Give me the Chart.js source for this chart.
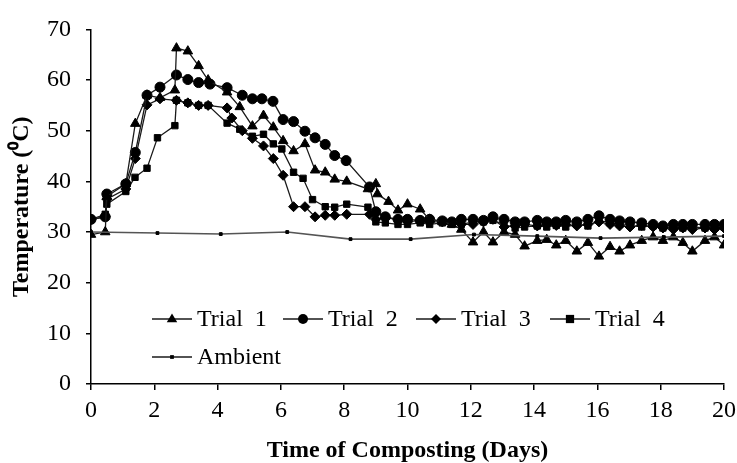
<!DOCTYPE html>
<html>
<head>
<meta charset="utf-8">
<script src="https://cdn.jsdelivr.net/npm/chart.js"></script>
<style>
  body { margin: 0; background: #fff; }
</style>
</head>
<body>
<canvas id="chart" width="737" height="463"></canvas>
<script>
// composting temperature (days, deg C)
let lateDays = [9.0, 9.3, 9.7, 10.0, 10.4, 10.7, 11.1, 11.4, 11.7, 12.07, 12.4, 12.7, 13.05, 13.4, 13.7, 14.1, 14.4, 14.7,
  15.0, 15.35, 15.7, 16.05, 16.4, 16.7, 17.03, 17.4, 17.76, 18.07, 18.4, 18.7, 19.0, 19.4, 19.7, 20.0];

let trial1Days = [0, 0.45, 0.5, 1.1, 1.4, 1.77, 2.18, 2.65, 2.7, 3.06, 3.4, 3.7, 4.3, 4.7, 5.1, 5.45, 5.76, 6.07, 6.4, 6.76,
  7.08, 7.4, 7.7, 8.08, 8.75, 9.0, 9.05, 9.4, 9.7, 10.0, 10.4, 10.7, 11.1, 11.4, 11.7, 12.07, 12.4, 12.7, 13.05, 13.4, 13.7,
  14.1, 14.4, 14.7, 15.0, 15.35, 15.7, 16.05, 16.4, 16.7, 17.03, 17.4, 17.76, 18.07, 18.4, 18.7, 19.0, 19.4, 19.7, 20.0];
let trial1Temp = [29.5, 30, 37, 39.5, 51.4, 57, 56.5, 58, 66.3, 65.7, 62.8, 60, 57.6, 54.7, 50.9, 53, 50.7, 48, 46, 47.4,
  42.2, 41.8, 40.4, 40, 38.5, 39.5, 37.5, 36, 34.3, 35.5, 34.5, 32.5, 32, 31.5, 30.5, 28, 30, 28, 30, 29.5, 27.2,
  28.3, 28.5, 27.4, 28.3, 26.2, 27.9, 25.2, 27.1, 26.2, 27.4, 28.3, 29, 28.3, 29, 27.9, 26.2, 28.3, 29, 27.4];

let trial2Days = [0, 0.45, 0.5, 1.1, 1.4, 1.77, 2.18, 2.7, 3.06, 3.4, 3.76, 4.3, 4.78, 5.1, 5.4, 5.75, 6.07, 6.4, 6.76,
  7.08, 7.4, 7.7, 8.06, 8.8].concat(lateDays);
let trial2Temp = [32.5, 33, 37.5, 39.5, 45.7, 57, 58.6, 61, 60.1, 59.5, 59.2, 58.5, 57, 56.3, 56.3, 55.8, 52.2, 51.8, 49.9,
  48.6, 47.3, 45.1, 44.1, 38.9,
  34, 33, 32.5, 32.5, 32.3, 32.5, 32.2, 32, 32.5, 32.5, 32.3, 33, 32.5, 32, 32, 32.3, 32, 32,
  32.3, 32, 32.5, 33.2, 32.5, 32.2, 32, 31.8, 31.5, 31.2, 31.5, 31.5, 31.5, 31.5, 31.5, 31.5];

let trial3Days = [0, 0.45, 0.5, 1.1, 1.4, 1.77, 2.18, 2.7, 3.06, 3.4, 3.7, 4.3, 4.45, 4.78, 5.1, 5.45, 5.76, 6.07, 6.4,
  6.76, 7.08, 7.4, 7.7, 8.08, 8.8].concat(lateDays);
let trial3Temp = [32.5, 33, 36.5, 38.5, 44.5, 55.1, 56.3, 56, 55.5, 55, 55, 54.5, 52.5, 50, 48.5, 47, 44.5, 41.2, 35,
  35, 33, 33.3, 33.3, 33.5, 33.5,
  32.5, 32.8, 32.5, 32, 32.3, 32, 32, 31.8, 31.5, 31.5, 32, 32.5, 31, 31.2, 31.5, 31.2, 31.5, 31.3,
  31.5, 31.2, 31.5, 32, 31.5, 31.2, 31, 31.3, 31, 30.8, 30.5, 30.8, 30.5, 30.8, 30.5, 30.8];

let trial4Days = [0, 0.45, 0.5, 1.1, 1.39, 1.77, 2.1, 2.65, 2.7, 3.06, 3.4, 3.7, 4.3, 4.7, 5.1, 5.45, 5.76, 6.03, 6.4,
  6.7, 7.0, 7.4, 7.7, 8.08, 8.75].concat(lateDays);
let trial4Temp = [32.5, 33.5, 35.5, 38, 40.8, 42.6, 48.6, 51, 56, 55.5, 55, 55, 51.5, 50.3, 48.9, 49.3, 47.4, 46.4, 41.8,
  40.6, 36.4, 35, 34.9, 35.5, 34.9,
  32, 31.8, 31.5, 31.5, 31.8, 31.5, 31.8, 31.5, 31.5, 32, 32, 32.3, 31.5, 30.8, 31, 31.2, 31, 31.3,
  31, 31.5, 31.2, 32.3, 31.8, 31.5, 31.3, 31, 31.2, 30.8, 31, 30.8, 31, 30.8, 30.8, 31];

let ambientDays = [0, 2.1, 4.1, 6.2, 8.2, 10.1, 12.1, 14.1, 16.1, 18.1, 20];
let ambientTemp = [30, 29.8, 29.6, 30, 28.6, 28.6, 29.5, 29.2, 28.8, 29, 29.2];

let xTicks = [0, 2, 4, 6, 8, 10, 12, 14, 16, 18, 20];
let yTicks = [0, 10, 20, 30, 40, 50, 60, 70];

let serif = "'Liberation Serif', 'Times New Roman', serif";

function toPoints(days, temps) {
  return days.map((d, i) => ({ x: d, y: temps[i] }));
}

function makeSet(label, days, temps, style, radius, color, width) {
  return {
    label: label,
    data: toPoints(days, temps),
    borderColor: color,
    borderWidth: width,
    backgroundColor: '#000',
    pointBackgroundColor: '#000',
    pointBorderColor: '#000',
    pointBorderWidth: 1,
    pointStyle: style,
    pointRadius: radius,
    tension: 0,
    fill: false
  };
}

let datasets = [
  makeSet('Ambient', ambientDays, ambientTemp, 'rect', 2, '#555', 1.6),
  makeSet('Trial 1', trial1Days, trial1Temp, 'triangle', 5.5, '#1a1a1a', 1.3),
  makeSet('Trial 2', trial2Days, trial2Temp, 'circle', 5, '#1a1a1a', 1.3),
  makeSet('Trial 3', trial3Days, trial3Temp, 'rectRot', 5, '#1a1a1a', 1.3),
  makeSet('Trial 4', trial4Days, trial4Temp, 'rect', 4.5, '#1a1a1a', 1.3)
];

// draw a small marker for the legend
function drawMarker(ctx, style, x, y, r) {
  ctx.beginPath();
  if (style === 'triangle') {
    ctx.moveTo(x, y - r);
    ctx.lineTo(x + r * 0.95, y + r * 0.6);
    ctx.lineTo(x - r * 0.95, y + r * 0.6);
    ctx.closePath();
  } else if (style === 'circle') {
    ctx.arc(x, y, r, 0, Math.PI * 2);
  } else if (style === 'rectRot') {
    ctx.moveTo(x, y - r);
    ctx.lineTo(x + r, y);
    ctx.lineTo(x, y + r);
    ctx.lineTo(x - r, y);
    ctx.closePath();
  } else {
    ctx.rect(x - r * 0.75, y - r * 0.75, r * 1.5, r * 1.5);
  }
  ctx.fill();
}

// legend sits inside the plot area in the original
let legendItems = [
  { label: 'Trial  1', style: 'triangle', r: 5.5, x: 152, y: 319 },
  { label: 'Trial  2', style: 'circle', r: 5, x: 283, y: 319 },
  { label: 'Trial  3', style: 'rectRot', r: 5, x: 416, y: 319 },
  { label: 'Trial  4', style: 'rect', r: 5.5, x: 550, y: 319 },
  { label: 'Ambient', style: 'rect', r: 2.5, x: 152, y: 357 }
];

let insideLegend = {
  id: 'insideLegend',
  afterDraw(chart) {
    let ctx = chart.ctx;
    ctx.save();
    ctx.fillStyle = '#000';
    ctx.strokeStyle = '#1a1a1a';
    ctx.lineWidth = 1.3;
    ctx.font = '24px ' + serif;
    ctx.textBaseline = 'middle';
    ctx.textAlign = 'left';
    legendItems.forEach(item => {
      ctx.beginPath();
      ctx.moveTo(item.x, item.y);
      ctx.lineTo(item.x + 40, item.y);
      ctx.stroke();
      drawMarker(ctx, item.style, item.x + 20, item.y, item.r);
      ctx.fillText(item.label, item.x + 45, item.y + 1);
    });
    ctx.restore();
  }
};

let ctx = document.getElementById('chart').getContext('2d');
let myChart = new Chart(ctx, {
  type: 'line',
  data: { datasets: datasets },
  options: {
    responsive: false,
    animation: false,
    layout: { padding: { left: 0, right: 0, top: 20, bottom: 0 } },
    plugins: {
      legend: { display: false },
      tooltip: { enabled: false }
    },
    scales: {
      x: {
        type: 'linear',
        min: 0,
        max: 20,
        afterBuildTicks: axis => { axis.ticks = xTicks.map(v => ({ value: v })); },
        afterFit: axis => {
          axis.height = 79;
          axis.paddingLeft = 0;
          axis.paddingRight = 13;
        },
        ticks: { color: '#000', font: { family: serif, size: 24 }, padding: 6, maxRotation: 0 },
        grid: { display: true, drawOnChartArea: false, drawTicks: true, tickLength: 6, color: '#000', lineWidth: 1.5 },
        border: { display: true, color: '#000', width: 1.5 },
        title: {
          display: true,
          text: 'Time of Composting (Days)',
          color: '#000',
          font: { family: serif, size: 24, weight: 'bold', lineHeight: 1.0 },
          padding: { top: 0, bottom: 0 }
        }
      },
      y: {
        min: 0,
        max: 70,
        afterBuildTicks: axis => { axis.ticks = yTicks.map(v => ({ value: v })); },
        afterFit: axis => { axis.width = 91; },
        ticks: { color: '#000', font: { family: serif, size: 24 }, padding: 15 },
        grid: { display: true, drawOnChartArea: false, drawTicks: true, tickLength: 5, color: '#000', lineWidth: 1.5 },
        border: { display: true, color: '#000', width: 1.5 },
        title: {
          display: true,
          text: 'Temperature (\u2070C)',
          color: '#000',
          font: { family: serif, size: 24, weight: 'bold' },
          padding: { top: 7, bottom: 0 }
        }
      }
    }
  },
  plugins: [insideLegend]
});
</script>
</body>
</html>
